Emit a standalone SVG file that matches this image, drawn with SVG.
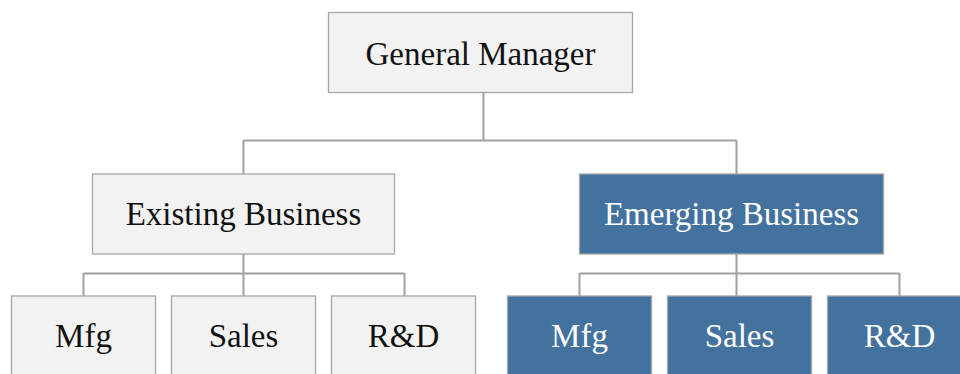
<svg xmlns="http://www.w3.org/2000/svg" width="960" height="374" viewBox="0 0 960 374">
<style>
.n rect{stroke:#a6a6a6;stroke-width:1.3}
.g rect{fill:#f2f2f2}
.b rect{fill:#44729f}
text{font-family:"Liberation Serif","Times New Roman",serif;font-size:33px;text-anchor:middle}
.g text{fill:#111}
.b text{fill:#ffffff}
.c path{fill:none;stroke:#a0a0a0;stroke-width:2}
</style>
<rect width="960" height="374" fill="#ffffff"/>
<g class="c" id="connectors">
<path d="M483.5 92.5V140.5M243.5 140.5H736.5M243.5 140V174M736.5 140V174"/>
<path d="M243.5 254V273.5M83.5 273.5H404.5M83.5 273V296M243.5 273V296M404.5 273V296"/>
<path d="M736.5 254V273.5M579.5 273.5H899.5M579.5 273V296M736.5 273V296M899.5 273V296"/>
</g>
<g class="n g" id="general-manager"><rect x="328.5" y="12.5" width="304" height="80"/><text x="480.5" y="65">General Manager</text></g>
<g class="n g" id="existing-business"><rect x="92.5" y="174" width="302" height="80"/><text x="243.5" y="224.5">Existing Business</text></g>
<g class="n b" id="emerging-business"><rect x="579.5" y="174" width="304" height="80"/><text x="731.5" y="224.5">Emerging Business</text></g>
<g class="n g" id="existing-mfg"><rect x="11.5" y="296" width="144" height="82"/><text x="83.5" y="347">Mfg</text></g>
<g class="n g" id="existing-sales"><rect x="171.5" y="296" width="144" height="82"/><text x="243.5" y="347">Sales</text></g>
<g class="n g" id="existing-rd"><rect x="331.5" y="296" width="144" height="82"/><text x="403.5" y="347">R&amp;D</text></g>
<g class="n b" id="emerging-mfg"><rect x="507.5" y="296" width="144" height="82"/><text x="579.5" y="347">Mfg</text></g>
<g class="n b" id="emerging-sales"><rect x="667.5" y="296" width="144" height="82"/><text x="739.5" y="347">Sales</text></g>
<g class="n b" id="emerging-rd"><rect x="827.5" y="296" width="144" height="82"/><text x="899.5" y="347">R&amp;D</text></g>
</svg>
